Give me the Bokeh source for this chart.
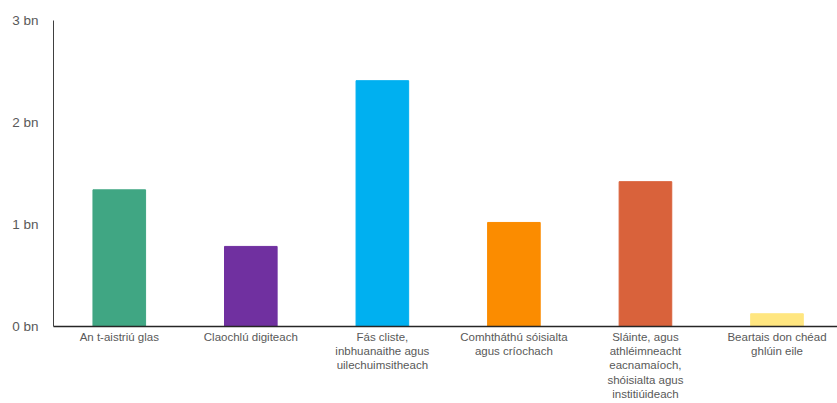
from bokeh.plotting import figure
from bokeh.models import FixedTicker, Range1d, ColumnDataSource
from bokeh.embed import file_html
from bokeh.resources import INLINE

categories = [
    "An t-aistriú glas",
    "Claochlú digiteach",
    "Fás cliste,\ninbhuanaithe agus\nuilechuimsitheach",
    "Comhtháthú sóisialta\nagus críochach",
    "Sláinte, agus\nathléimneacht\neacnamaíoch,\nshóisialta agus\ninstitiúideach",
    "Beartais don chéad\nghlúin eile",
]
values_bn = [1.34, 0.785, 2.41, 1.02, 1.42, 0.125]
colors = ["#40A683", "#7030A0", "#00B0F0", "#FB8C00", "#D9623B", "#FFE680"]
y_ticks = [0, 1, 2, 3]
y_tick_labels = ["0 bn", "1 bn", "2 bn", "3 bn"]

xs = list(range(len(categories)))
src = ColumnDataSource(dict(x=xs, top=values_bn, color=colors))

p = figure(width=837, height=403, output_backend="svg", toolbar_location=None,
           x_range=Range1d(-0.5, 5.46), y_range=Range1d(0, 3),
           min_border_left=53, min_border_top=20, min_border_right=0, min_border_bottom=0)
p.vbar(x="x", top="top", width=0.4, color="color", source=src)

p.xgrid.visible = False
p.ygrid.visible = False
p.outline_line_color = None

p.xaxis.ticker = FixedTicker(ticks=xs)
p.xaxis.major_label_overrides = {i: c for i, c in enumerate(categories)}
p.xaxis.major_tick_line_color = None
p.xaxis.minor_tick_line_color = None
p.xaxis.major_tick_out = 0
p.xaxis.major_tick_in = 0
p.xaxis.minor_tick_out = 0
p.xaxis.axis_label_standoff = 0
p.xaxis.axis_line_color = "#262626"
p.xaxis.axis_line_width = 1.5
p.xaxis.major_label_text_font = "Liberation Sans"
p.xaxis.major_label_text_font_size = "11.5px"
p.xaxis.major_label_text_color = "#595959"
p.xaxis.major_label_standoff = 4

p.yaxis.ticker = FixedTicker(ticks=y_ticks)
p.yaxis.major_label_overrides = {t: l for t, l in zip(y_ticks, y_tick_labels)}
p.yaxis.major_tick_line_color = None
p.yaxis.minor_tick_line_color = None
p.yaxis.major_tick_out = 0
p.yaxis.major_tick_in = 0
p.yaxis.minor_tick_out = 0
p.yaxis.axis_line_color = "#404040"
p.yaxis.major_label_text_font = "Liberation Sans"
p.yaxis.major_label_text_font_size = "13.5px"
p.yaxis.major_label_text_color = "#595959"
p.yaxis.major_label_standoff = 15

open("out.html", "w").write(file_html(p, INLINE))
